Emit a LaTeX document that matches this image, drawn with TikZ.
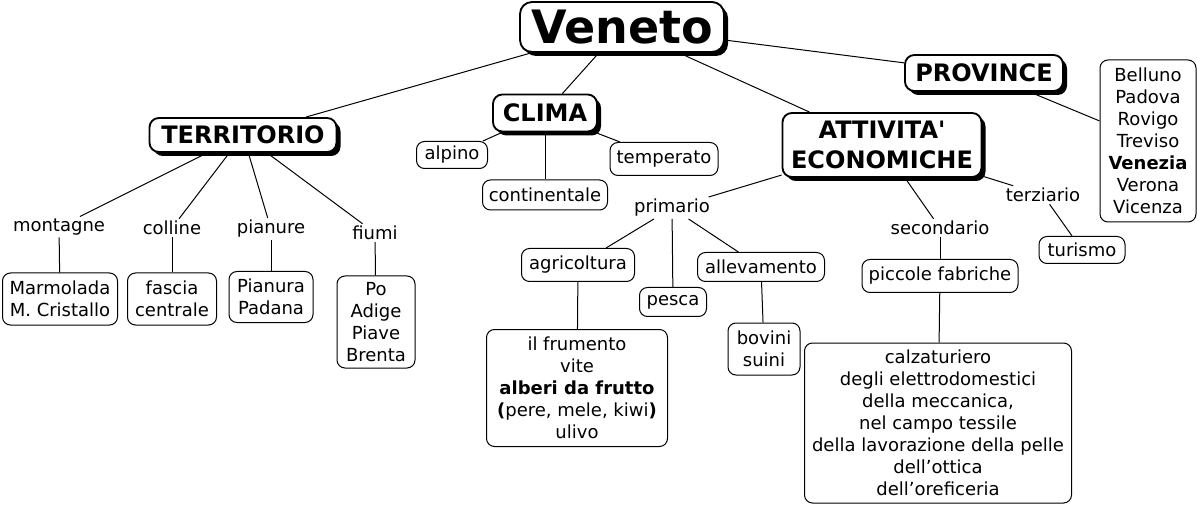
\documentclass[tikz,border=0pt]{standalone}
\usepackage{fontspec}
\setmainfont{DejaVu Sans}[Ligatures=TeXOff]
\usetikzlibrary{shadows}
\newcommand\normsz{\fontsize{13.5}{16.5}\selectfont}
\newcommand\titsz{\fontsize{18}{22.5}\selectfont\bfseries}
\newcommand\bigsz{\fontsize{34.5}{37}\selectfont\bfseries}
\tikzset{
  x=0.75pt, y=-0.75pt,
  wh/.style 2 args={minimum width=#1*0.75pt, minimum height=#2*0.75pt},
  cbox/.style={draw, rounded corners=6pt, fill=white, align=center, font=\normsz, line width=0.75pt, inner sep=0pt},
  tbox/.style={draw, rounded corners=7pt, fill=white, align=center, font=\titsz, line width=1.4pt, inner sep=0pt,
    drop shadow={opacity=1, fill=black, shadow xshift=3pt, shadow yshift=-3pt}},
  lab/.style={font=\normsz, inner sep=1.5pt, fill=none},
  conn/.style={line width=0.75pt},
}
\begin{document}
\begin{tikzpicture}
\useasboundingbox (0,0) rectangle (1197,506);
% title nodes
\node[tbox, font=\bigsz, rounded corners=9pt, wh={204}{50}] (veneto) at (622,27) {Veneto};
\node[tbox, wh={187}{34}] (terr) at (243,135) {TERRITORIO};
\node[tbox, wh={104}{37}] (clima) at (545,113) {CLIMA};
\node[tbox, wh={199}{64}] (att) at (882,145) {ATTIVITA'\\ECONOMICHE};
\node[tbox, wh={158}{36}] (prov) at (984,73) {PROVINCE};
% concepts
\node[cbox, wh={71}{27}] (alpino) at (452,155) {alpino};
\node[cbox, wh={125}{30}] (cont) at (545,195) {continentale};
\node[cbox, wh={108}{33}] (temp) at (664,159) {temperato};
\node[cbox, wh={113}{33}] (agri) at (578,265) {agricoltura};
\node[cbox, wh={67}{29}] (pesca) at (673,302) {pesca};
\node[cbox, wh={127}{29}] (alle) at (761,267) {allevamento};
\node[cbox, wh={72}{52}] (bov) at (764,349) {bovini\\suini};
\node[cbox, wh={181}{117}] (frum) at (577,388) {il frumento\\vite\\\textbf{alberi da frutto}\\ \textbf{(}pere, mele, kiwi\textbf{)}\\ulivo};
\node[cbox, wh={115}{52}] (marm) at (60,299) {Marmolada\\M. Cristallo};
\node[cbox, wh={89}{52}] (fascia) at (172,299) {fascia\\centrale};
\node[cbox, wh={84}{51}] (pian) at (271,297) {Pianura\\Padana};
\node[cbox, wh={78}{92}] (po) at (376,322) {Po\\Adige\\Piave\\Brenta};
\node[cbox, wh={156}{33}] (picc) at (940,276) {piccole fabriche};
\node[cbox, wh={267}{160}] (calz) at (938,423) {calzaturiero\\degli elettrodomestici\\della meccanica,\\nel campo tessile\\della lavorazione della pelle\\dell’ottica\\dell’oreficeria};
\node[cbox, wh={86}{27}] (tur) at (1082,250) {turismo};
\node[cbox, wh={96}{162}] (prv) at (1148,141) {Belluno\\Padova\\Rovigo\\Treviso\\\textbf{Venezia}\\Verona\\Vicenza};
% labels
\node[lab] (lmont) at (59,227) {montagne};
\node[lab] (lcoll) at (172,228) {colline};
\node[lab] (lpian) at (271,229) {pianure};
\node[lab] (lfium) at (375,233) {fiumi};
\node[lab] (lprim) at (672,208) {primario};
\node[lab] (lsec) at (940,228) {secondario};
\node[lab] (lter) at (1043,195) {terziario};
% connectors
\draw[conn] (veneto) -- (terr);
\draw[conn] (veneto) -- (clima);
\draw[conn] (veneto) -- (att);
\draw[conn] (veneto) -- (prov);
\draw[conn] (prov) -- (prv);
\draw[conn] (terr) -- (lmont); \draw[conn] (lmont) -- (marm);
\draw[conn] (terr) -- (lcoll); \draw[conn] (lcoll) -- (fascia);
\draw[conn] (terr) -- (lpian); \draw[conn] (lpian) -- (pian);
\draw[conn] (terr) -- (lfium); \draw[conn] (lfium) -- (po);
\draw[conn] (clima) -- (alpino);
\draw[conn] (clima) -- (cont);
\draw[conn] (clima) -- (temp);
\draw[conn] (att) -- (lprim);
\draw[conn] (lprim) -- (agri);
\draw[conn] (lprim) -- (pesca);
\draw[conn] (lprim) -- (alle);
\draw[conn] (agri) -- (frum);
\draw[conn] (alle) -- (bov);
\draw[conn] (att) -- (lsec); \draw[conn] (lsec) -- (picc); \draw[conn] (picc) -- (calz);
\draw[conn] (att) -- (lter); \draw[conn] (lter) -- (tur);
\end{tikzpicture}
\end{document}
